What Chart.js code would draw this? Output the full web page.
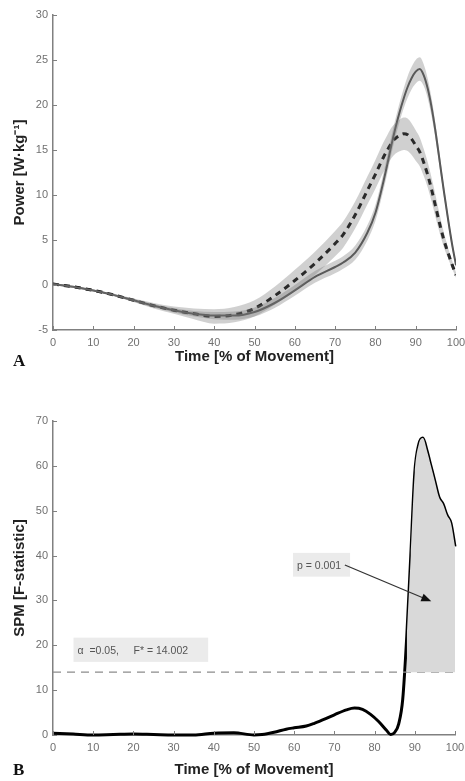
<!DOCTYPE html>
<html>
<head>
<meta charset="utf-8">
<script src="https://cdn.jsdelivr.net/npm/chart.js@4.4.1/dist/chart.umd.min.js"></script>
<style>
  body { margin: 0; background: #fff; }
  #wrap { position: relative; width: 465px; height: 781px; }
  canvas { position: absolute; left: 0; }
  #chartA { top: 0; }
  #chartB { top: 390px; }
</style>
</head>
<body>
<div id="wrap">
  <canvas id="chartA" width="465" height="390"></canvas>
  <canvas id="chartB" width="465" height="391"></canvas>
</div>
<script>
// panel A: power curves, mean and SD band of the two groups
const timeA = [0, 5, 10, 15, 20, 25, 30, 35, 40, 45, 50, 55, 60, 65, 70, 72, 75, 78, 80, 82, 83, 84, 85, 86, 87, 88, 89, 90, 91, 92, 93, 94, 95, 96, 97, 98, 99, 100];
const powerSolid = [0.1, -0.2, -0.6, -1.1, -1.7, -2.3, -2.8, -3.2, -3.4, -3.4, -3.0, -2.0, -0.6, 0.9, 2.0, 2.5, 3.6, 5.8, 8.0, 11.5, 13.5, 15.6, 17.5, 19.2, 20.7, 22.0, 23.0, 23.7, 24.0, 23.3, 21.8, 19.6, 16.8, 13.6, 10.4, 7.4, 4.6, 2.2];
const sdSolid = [0.1, 0.1, 0.1, 0.1, 0.15, 0.2, 0.25, 0.3, 0.4, 0.45, 0.5, 0.55, 0.6, 0.65, 0.7, 0.7, 0.8, 0.85, 0.9, 0.95, 1.0, 1.0, 1.0, 1.05, 1.1, 1.2, 1.25, 1.3, 1.3, 1.2, 1.1, 1.0, 0.8, 0.7, 0.6, 0.5, 0.4, 0.3];
const powerDashed = [0.1, -0.2, -0.6, -1.1, -1.7, -2.3, -2.8, -3.2, -3.5, -3.3, -2.6, -1.2, 0.5, 2.4, 4.6, 5.6, 7.8, 10.5, 12.3, 14.2, 15.0, 15.8, 16.3, 16.6, 16.8, 16.7, 16.2, 15.5, 14.8, 13.6, 12.2, 10.5, 8.6, 6.7, 5.0, 3.6, 2.3, 1.1];
const sdDashed = [0.1, 0.1, 0.1, 0.15, 0.2, 0.3, 0.4, 0.6, 0.8, 0.85, 0.9, 1.0, 1.2, 1.3, 1.4, 1.45, 1.5, 1.55, 1.6, 1.65, 1.7, 1.7, 1.7, 1.75, 1.8, 1.8, 1.75, 1.7, 1.6, 1.5, 1.4, 1.3, 1.2, 1.0, 0.8, 0.6, 0.45, 0.3];

// panel B: SPM F statistic and critical threshold
const timeB = [0, 5, 10, 15, 20, 25, 30, 35, 40, 45, 50, 52, 55, 58, 60, 63, 65, 68, 70, 73, 75, 77, 79, 81, 83, 84, 85, 86, 87, 88, 89, 90, 91, 92, 93, 94, 95, 96, 97, 98, 99, 100];
const spmF = [0.4, 0.2, 0, 0.1, 0.2, 0.1, 0, 0, 0.4, 0.5, 0, 0.1, 0.6, 1.3, 1.6, 2.0, 2.6, 3.7, 4.5, 5.6, 6.0, 5.7, 4.6, 3.0, 1.0, 0.1, 0.6, 2.5, 8.0, 22.0, 40.0, 58.5, 64.8, 66.2, 63.5, 60.0, 56.5, 53.0, 51.5, 49.0, 47.2, 42.0];
const fCritical = 14.002;
const alphaLevel = 0.05;
const pValue = 0.001;

const ticksA = [-5, 0, 5, 10, 15, 20, 25, 30];
const ticksB = [0, 10, 20, 30, 40, 50, 60, 70];
const ticksX = [0, 10, 20, 30, 40, 50, 60, 70, 80, 90, 100];

const pts = (xs, ys) => xs.map((x, i) => ({ x: x, y: ys[i] }));

const innerTicks = {
  id: 'innerTicks',
  afterDatasetsDraw(chart) {
    const { ctx, chartArea, scales: { x, y } } = chart;
    ctx.save();
    ctx.strokeStyle = '#808080';
    ctx.lineWidth = 1;
    ctx.beginPath();
    x.ticks.forEach(t => {
      const px = Math.round(x.getPixelForValue(t.value)) + 0.5;
      ctx.moveTo(px, chartArea.bottom);
      ctx.lineTo(px, chartArea.bottom - 4);
    });
    y.ticks.forEach(t => {
      const py = Math.round(y.getPixelForValue(t.value)) + 0.5;
      ctx.moveTo(chartArea.left, py);
      ctx.lineTo(chartArea.left + 4, py);
    });
    ctx.stroke();
    ctx.restore();
  }
};

const panelLetter = {
  id: 'panelLetter',
  afterDraw(chart, args, opts) {
    const ctx = chart.ctx;
    ctx.save();
    ctx.font = 'bold 17px "Liberation Serif", "DejaVu Serif", serif';
    ctx.fillStyle = '#111';
    ctx.textBaseline = 'alphabetic';
    ctx.fillText(opts.text, opts.x, opts.y);
    ctx.restore();
  }
};

// text boxes and arrow of panel B, placed in data units
const spmNotes = {
  id: 'spmNotes',
  afterDatasetsDraw(chart) {
    const { ctx, scales: { x, y } } = chart;
    const box = (x0, x1, y0, y1, text, tx) => {
      const l = x.getPixelForValue(x0), r = x.getPixelForValue(x1);
      const t = y.getPixelForValue(y0), b = y.getPixelForValue(y1);
      ctx.fillStyle = '#ebebeb';
      ctx.fillRect(l, t, r - l, b - t);
      ctx.fillStyle = '#555';
      ctx.font = '10.5px "Liberation Sans", Arial, sans-serif';
      ctx.textBaseline = 'middle';
      ctx.fillText(text, l + tx, (t + b) / 2 + 1);
    };
    ctx.save();
    box(59.7, 73.9, 40.6, 35.3, 'p = ' + pValue.toFixed(3), 4);
    box(5.1, 38.6, 21.7, 16.3, '\u03b1  =' + alphaLevel.toFixed(2) + ',     F* = ' + fCritical.toFixed(3), 4);

    const x0 = x.getPixelForValue(72.6), y0 = y.getPixelForValue(37.9);
    const x1 = x.getPixelForValue(94.1), y1 = y.getPixelForValue(29.8);
    const ang = Math.atan2(y1 - y0, x1 - x0);
    ctx.strokeStyle = '#333';
    ctx.lineWidth = 1.3;
    ctx.beginPath();
    ctx.moveTo(x0, y0);
    ctx.lineTo(x1 - 6 * Math.cos(ang), y1 - 6 * Math.sin(ang));
    ctx.stroke();
    ctx.fillStyle = '#111';
    ctx.beginPath();
    ctx.moveTo(x1, y1);
    ctx.lineTo(x1 - 10 * Math.cos(ang) + 4 * Math.sin(ang), y1 - 10 * Math.sin(ang) - 4 * Math.cos(ang));
    ctx.lineTo(x1 - 10 * Math.cos(ang) - 4 * Math.sin(ang), y1 - 10 * Math.sin(ang) + 4 * Math.cos(ang));
    ctx.closePath();
    ctx.fill();
    ctx.restore();
  }
};

const tickFont = { family: '"Liberation Sans", Arial, sans-serif', size: 11 };
const titleFont = { family: '"Liberation Sans", Arial, sans-serif', size: 15, weight: 'bold' };

function axes(yMin, yMax, yTicks, yTitle, xHeight, xTitlePad) {
  return {
    x: {
      type: 'linear', min: 0, max: 100,
      afterBuildTicks: s => { s.ticks = ticksX.map(v => ({ value: v })); },
      afterFit: s => { s.height = xHeight; s.paddingRight = 0; s.paddingLeft = 0; },
      grid: { display: true, drawOnChartArea: false, drawTicks: false },
      border: { display: true, color: '#808080', width: 1.5 },
      ticks: { color: '#707070', font: tickFont, padding: 6, maxRotation: 0 },
      title: { display: true, text: 'Time [% of Movement]', color: '#222', font: titleFont, padding: { top: 0, bottom: xTitlePad } }
    },
    y: {
      min: yMin, max: yMax,
      afterBuildTicks: s => { s.ticks = yTicks.map(v => ({ value: v })); },
      afterFit: s => { s.width = 53; },
      grid: { display: true, drawOnChartArea: false, drawTicks: false },
      border: { display: true, color: '#808080', width: 1.5 },
      ticks: { color: '#707070', font: tickFont, padding: 5 },
      title: { display: true, text: yTitle, color: '#222', font: titleFont, padding: { top: 11, bottom: 0 } }
    }
  };
}

const bandA = 'rgba(120,120,120,0.35)';

new Chart(document.getElementById('chartA'), {
  type: 'line',
  data: {
    datasets: [
      { data: pts(timeA, powerSolid.map((v, i) => v - sdSolid[i])), borderWidth: 0, pointRadius: 0, fill: false, cubicInterpolationMode: 'monotone' },
      { data: pts(timeA, powerSolid.map((v, i) => v + sdSolid[i])), borderWidth: 0, pointRadius: 0, fill: '-1', backgroundColor: bandA, cubicInterpolationMode: 'monotone' },
      { data: pts(timeA, powerDashed.map((v, i) => v - sdDashed[i])), borderWidth: 0, pointRadius: 0, fill: false, cubicInterpolationMode: 'monotone' },
      { data: pts(timeA, powerDashed.map((v, i) => v + sdDashed[i])), borderWidth: 0, pointRadius: 0, fill: '-1', backgroundColor: bandA, cubicInterpolationMode: 'monotone' },
      { data: pts(timeA, powerSolid), borderColor: '#4a4a4a', borderWidth: 2, pointRadius: 0, fill: false, cubicInterpolationMode: 'monotone' },
      { data: pts(timeA, powerDashed), borderColor: '#000', borderWidth: 3, borderDash: [6, 5], pointRadius: 0, fill: false, cubicInterpolationMode: 'monotone' }
    ]
  },
  options: {
    responsive: false,
    animation: false,
    layout: { padding: { top: 15, right: 9, left: 0, bottom: 0 } },
    plugins: {
      legend: { display: false },
      tooltip: { enabled: false },
      panelLetter: { text: 'A', x: 13, y: 366 }
    },
    scales: axes(-5, 30, ticksA, 'Power [W\u00b7kg\u207b\u00b9]', 60, 24)
  },
  plugins: [innerTicks, panelLetter]
});

const supra = timeB.map((t, i) => ({ x: t, y: spmF[i] })).filter(p => p.y >= fCritical);

new Chart(document.getElementById('chartB'), {
  type: 'line',
  data: {
    datasets: [
      { data: supra, borderWidth: 0, pointRadius: 0, fill: { value: fCritical }, backgroundColor: '#d9d9d9', cubicInterpolationMode: 'monotone' },
      { data: [{ x: 0, y: fCritical }, { x: 100, y: fCritical }], borderColor: '#8c8c8c', borderWidth: 1.3, borderDash: [8, 6], pointRadius: 0, fill: false },
      { data: pts(timeB, spmF), borderColor: '#000', borderWidth: 3, pointRadius: 0, fill: false, clip: 4, cubicInterpolationMode: 'monotone' }
    ]
  },
  options: {
    responsive: false,
    animation: false,
    layout: { padding: { top: 31, right: 10, left: 0, bottom: 0 } },
    plugins: {
      legend: { display: false },
      tooltip: { enabled: false },
      panelLetter: { text: 'B', x: 13, y: 385 }
    },
    scales: axes(0, 70, ticksB, 'SPM [F-statistic]', 46, 2)
  },
  plugins: [innerTicks, panelLetter, spmNotes]
});
</script>
</body>
</html>
